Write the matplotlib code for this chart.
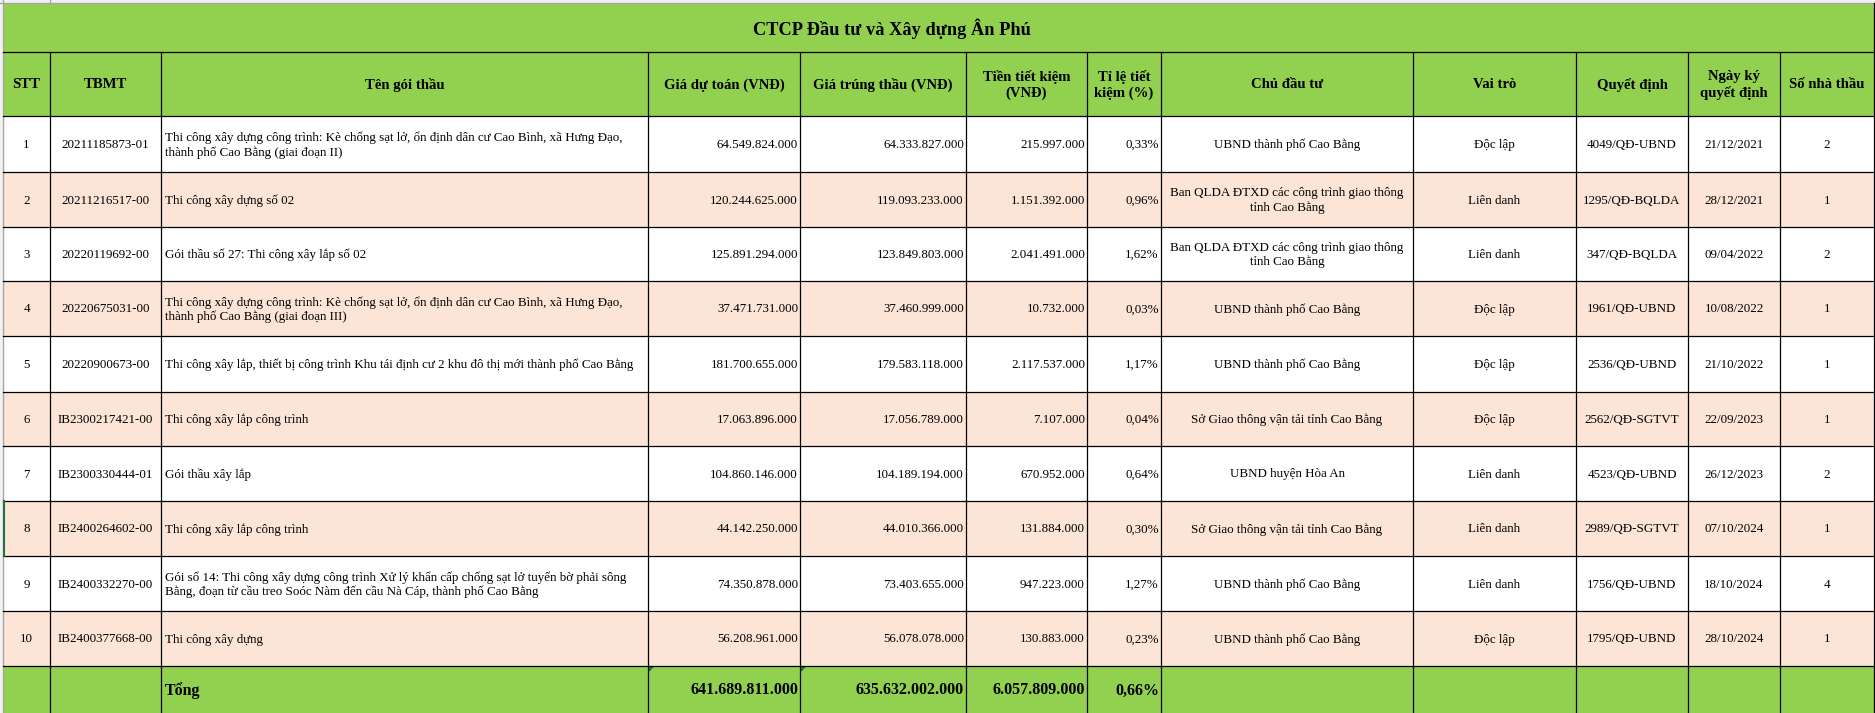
import matplotlib.pyplot as plt
from matplotlib.patches import Rectangle, Polygon

plt.rcParams['font.family'] = ['Liberation Serif', 'DejaVu Serif']

# ---- data ----
title = "CTCP Đầu tư và Xây dựng Ân Phú"
headers = ["STT", "TBMT", "Tên gói thầu", "Giá dự toán (VNĐ)", "Giá trúng thầu (VNĐ)",
           "Tiền tiết kiệm\n(VNĐ)", "Tỉ lệ tiết\nkiệm (%)", "Chủ đầu tư", "Vai trò",
           "Quyết định", "Ngày ký\nquyết định", "Số nhà thầu"]

stt = ["1", "2", "3", "4", "5", "6", "7", "8", "9", "10"]
tbmt = ["20211185873-01", "20211216517-00", "20220119692-00", "20220675031-00",
        "20220900673-00", "IB2300217421-00", "IB2300330444-01", "IB2400264602-00",
        "IB2400332270-00", "IB2400377668-00"]
ten_goi_thau = [
    "Thi công xây dựng công trình: Kè chống sạt lở, ổn định dân cư Cao Bình, xã Hưng Đạo,\nthành phố Cao Bằng (giai đoạn II)",
    "Thi công xây dựng số 02",
    "Gói thầu số 27: Thi công xây lắp số 02",
    "Thi công xây dựng công trình: Kè chống sạt lở, ổn định dân cư Cao Bình, xã Hưng Đạo,\nthành phố Cao Bằng (giai đoạn III)",
    "Thi công xây lắp, thiết bị công trình Khu tái định cư 2 khu đô thị mới thành phố Cao Bằng",
    "Thi công xây lắp công trình",
    "Gói thầu xây lắp",
    "Thi công xây lắp công trình",
    "Gói số 14: Thi công xây dựng công trình Xử lý khẩn cấp chống sạt lở tuyến bờ phải sông\nBằng, đoạn từ cầu treo Soóc Nàm đến cầu Nà Cáp, thành phố Cao Bằng",
    "Thi công xây dựng",
]
gia_du_toan = ["64.549.824.000", "120.244.625.000", "125.891.294.000", "37.471.731.000",
               "181.700.655.000", "17.063.896.000", "104.860.146.000", "44.142.250.000",
               "74.350.878.000", "56.208.961.000"]
gia_trung_thau = ["64.333.827.000", "119.093.233.000", "123.849.803.000", "37.460.999.000",
                  "179.583.118.000", "17.056.789.000", "104.189.194.000", "44.010.366.000",
                  "73.403.655.000", "56.078.078.000"]
tien_tiet_kiem = ["215.997.000", "1.151.392.000", "2.041.491.000", "10.732.000",
                  "2.117.537.000", "7.107.000", "670.952.000", "131.884.000",
                  "947.223.000", "130.883.000"]
ti_le = ["0,33%", "0,96%", "1,62%", "0,03%", "1,17%", "0,04%", "0,64%", "0,30%", "1,27%", "0,23%"]
ban_ql = "Ban QLDA ĐTXD các công trình giao thông\ntỉnh Cao Bằng"
chu_dau_tu = ["UBND thành phố Cao Bằng", ban_ql, ban_ql, "UBND thành phố Cao Bằng",
              "UBND thành phố Cao Bằng", "Sở Giao thông vận tải tỉnh Cao Bằng",
              "UBND huyện Hòa An", "Sở Giao thông vận tải tỉnh Cao Bằng",
              "UBND thành phố Cao Bằng", "UBND thành phố Cao Bằng"]
vai_tro = ["Độc lập", "Liên danh", "Liên danh", "Độc lập", "Độc lập", "Độc lập",
           "Liên danh", "Liên danh", "Liên danh", "Độc lập"]
quyet_dinh = ["4049/QĐ-UBND", "1295/QĐ-BQLDA", "347/QĐ-BQLDA", "1961/QĐ-UBND", "2536/QĐ-UBND",
              "2562/QĐ-SGTVT", "4523/QĐ-UBND", "2989/QĐ-SGTVT", "1756/QĐ-UBND", "1795/QĐ-UBND"]
ngay_ky = ["21/12/2021", "28/12/2021", "09/04/2022", "10/08/2022", "21/10/2022",
           "22/09/2023", "26/12/2023", "07/10/2024", "18/10/2024", "28/10/2024"]
so_nha_thau = ["2", "1", "2", "1", "1", "1", "2", "1", "4", "1"]

total_label = "Tổng"
total_values = ["641.689.811.000", "635.632.002.000", "6.057.809.000", "0,66%"]

# ---- layout (pixels) ----
col_edges = [3, 50, 161, 648, 800, 966, 1087, 1161, 1413, 1576, 1688, 1780, 1874]
row_edges = [3, 52, 116, 172, 227, 281, 336, 392, 446, 501, 556, 611, 666, 713]
aligns = ["c", "c", "l", "r", "r", "r", "r", "c", "c", "c", "c", "c"]

GREEN = "#92D050"
PEACH = "#FCE4D6"

W, H = 1875, 713
fig = plt.figure(figsize=(W / 100, H / 100), dpi=100)
ax = fig.add_axes([0, 0, 1, 1])
ax.set_xlim(0, W)
ax.set_ylim(H, 0)
ax.axis('off')

# excel grid around the table
ax.add_patch(Rectangle((0, 0), W, 3, color="#f2f2f2", lw=0))
ax.add_patch(Rectangle((0, 0), 3, H, color="#f2f2f2", lw=0))
ax.plot([0, W], [2.5, 2.5], color="#a6a6a6", lw=1)
ax.plot([2.5, 2.5], [0, H], color="#a6a6a6", lw=1)
ax.plot([50, 50], [0, 3], color="#a6a6a6", lw=1)

x0, x1 = col_edges[0], col_edges[-1]

# title row
ax.add_patch(Rectangle((x0, row_edges[0]), x1 - x0, row_edges[1] - row_edges[0], color=GREEN, lw=0))
ax.text(892, (row_edges[0] + row_edges[1]) / 2 + 1, title, ha="center", va="center",
        fontsize=13.2, fontweight="bold")

# header row
ax.add_patch(Rectangle((x0, row_edges[1]), x1 - x0, row_edges[2] - row_edges[1], color=GREEN, lw=0))
for j, h in enumerate(headers):
    xc = (col_edges[j] + col_edges[j + 1]) / 2
    ax.text(xc, (row_edges[1] + row_edges[2]) / 2 + 1, h, ha="center", va="center",
            fontsize=10.6, fontweight="bold", linespacing=1.25)

columns = [stt, tbmt, ten_goi_thau, gia_du_toan, gia_trung_thau, tien_tiet_kiem, ti_le,
           chu_dau_tu, vai_tro, quyet_dinh, ngay_ky, so_nha_thau]


def cell_text(j, yc, s, **kw):
    a = aligns[j]
    if a == "l":
        ax.text(col_edges[j] + 4, yc, s, ha="left", va="center", **kw)
    elif a == "r":
        ax.text(col_edges[j + 1] - 2, yc, s, ha="right", va="center", **kw)
    else:
        ax.text((col_edges[j] + col_edges[j + 1]) / 2, yc, s, ha="center", va="center",
                multialignment="center", **kw)


for i in range(len(stt)):
    top, bot = row_edges[i + 2], row_edges[i + 3]
    ax.add_patch(Rectangle((x0, top), x1 - x0, bot - top,
                           color=PEACH if i % 2 == 1 else "white", lw=0))
    yc = (top + bot) / 2 + 1
    for j, col in enumerate(columns):
        cell_text(j, yc, col[i], fontsize=9.4, linespacing=1.2)

# total row
top, bot = row_edges[-2], row_edges[-1]
ax.add_patch(Rectangle((x0, top), x1 - x0, bot - top, color=GREEN, lw=0))
yc = (top + 2 + bot) / 2
ax.text(col_edges[2] + 4, yc, total_label, ha="left", va="center", fontsize=11.5, fontweight="bold")
for k, v in enumerate(total_values):
    ax.text(col_edges[3 + k + 1] - 2, yc, v, ha="right", va="center", fontsize=11.5,
            fontweight="bold")
for j in (3, 4):
    cx = col_edges[j] + 1
    ax.add_patch(Polygon([[cx, top + 1], [cx + 5, top + 1], [cx, top + 6]],
                         closed=True, color="#1e7b34", lw=0))

# borders
for y in row_edges[1:-1]:
    ax.plot([x0, x1], [y, y], color="black", lw=0.9)
for x in col_edges[1:]:
    ax.plot([x, x], [row_edges[1], H], color="black", lw=0.9)
ax.plot([x1, x1], [row_edges[0], row_edges[1]], color="black", lw=0.9)
# selected-row marker on the left edge
ax.plot([3.5, 3.5], [row_edges[9], row_edges[10]], color="#217346", lw=1.5)

fig.savefig("out.png", dpi=100, facecolor="white")
